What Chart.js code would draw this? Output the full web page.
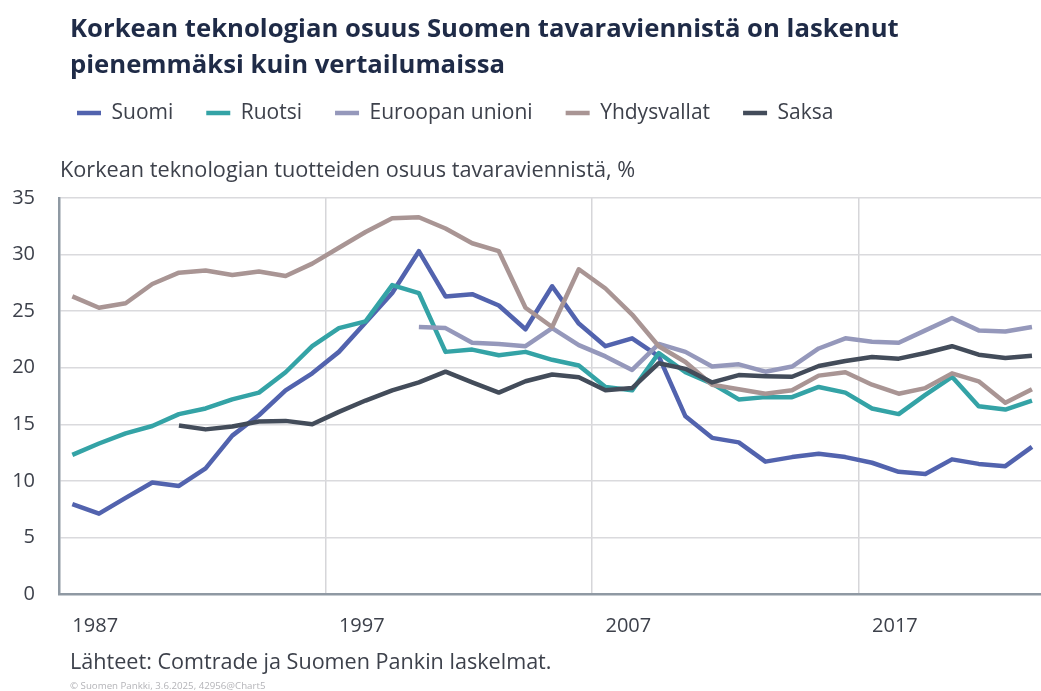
<!DOCTYPE html>
<html>
<head>
<meta charset="utf-8">
<script src="https://cdn.jsdelivr.net/npm/chart.js@4.4.1/dist/chart.umd.min.js"></script>
<style>
  html, body { margin: 0; padding: 0; background: #fff; overflow: hidden; width: 1041px; height: 691px; }
  #wrap { position: absolute; left: 0; top: 0; width: 1052px; height: 691px; }
  canvas { display: block; }
</style>
</head>
<body>
<div id="wrap"><canvas id="c" width="1052" height="691"></canvas></div>
<script>
// ---- data ----
const years = [1987,1988,1989,1990,1991,1992,1993,1994,1995,1996,1997,1998,1999,2000,2001,2002,2003,2004,2005,2006,2007,2008,2009,2010,2011,2012,2013,2014,2015,2016,2017,2018,2019,2020,2021,2022,2023];
const shownYears = [1987, 1997, 2007, 2017];
const yTicks = [0, 5, 10, 15, 20, 25, 30, 35];

const suomi = [7.95,7.1,8.5,9.85,9.55,11.1,14.0,15.8,18.0,19.5,21.4,24.0,26.6,30.3,26.3,26.5,25.5,23.4,27.2,23.9,21.9,22.6,21.0,15.7,13.8,13.4,11.7,12.1,12.4,12.1,11.6,10.8,10.6,11.9,11.5,11.3,13.0];
const ruotsi = [12.3,13.3,14.2,14.85,15.9,16.4,17.2,17.8,19.6,21.9,23.5,24.1,27.3,26.6,21.4,21.6,21.1,21.4,20.7,20.2,18.3,18.0,21.3,19.6,18.6,17.2,17.4,17.4,18.3,17.8,16.4,15.9,17.6,19.2,16.6,16.3,17.1];
const eu = [null,null,null,null,null,null,null,null,null,null,null,null,null,23.6,23.5,22.2,22.1,21.9,23.5,22.0,21.0,19.8,22.1,21.4,20.1,20.3,19.65,20.1,21.7,22.6,22.3,22.2,23.3,24.4,23.3,23.2,23.6];
const usa = [26.3,25.3,25.7,27.4,28.4,28.6,28.2,28.5,28.1,29.2,30.6,32.0,33.2,33.3,32.3,31.0,30.3,25.3,23.6,28.7,27.0,24.7,21.9,20.5,18.5,18.1,17.7,18.0,19.3,19.6,18.5,17.7,18.2,19.5,18.8,16.9,18.1];
const saksa = [null,null,null,null,14.9,14.55,14.8,15.25,15.3,15.0,16.1,17.1,18.0,18.7,19.65,18.7,17.8,18.8,19.4,19.15,18.0,18.2,20.4,19.9,18.7,19.35,19.25,19.2,20.15,20.6,20.95,20.8,21.3,21.9,21.15,20.85,21.05];

const seriesNames = ['Suomi', 'Ruotsi', 'Euroopan unioni', 'Yhdysvallat', 'Saksa'];
const titleLines = ['Korkean teknologian osuus Suomen tavaraviennistä on laskenut', 'pienemmäksi kuin vertailumaissa'];
const caption = 'Korkean teknologian tuotteiden osuus tavaraviennistä, %';
const sourceText = 'Lähteet: Comtrade ja Suomen Pankin laskelmat.';
const copyText = '© Suomen Pankki, 3.6.2025, 42956@Chart5';

// ---- styles ----
const colors = ['#5263AE', '#34A3A6', '#9598BB', '#A99594', '#434C5A'];
const FONT = "'Open Sans', 'Noto Sans', sans-serif";
Chart.defaults.font.family = FONT;

const values = [suomi, ruotsi, eu, usa, saksa];
const datasets = values.map((v, i) => ({
  label: seriesNames[i],
  data: v,
  borderColor: colors[i],
  backgroundColor: colors[i],
  borderWidth: 4.5,
  pointRadius: 0,
  pointHoverRadius: 0,
  tension: 0,
  spanGaps: false,
  borderJoinStyle: 'round',
  borderCapStyle: 'butt',
  fill: false,
  order: values.length - i
}));

const POS = {
  title: { x: 70, yMid: 30 },
  legend: { x: 77, yMid: 113 },
  caption: { x: 60, yMid: 171 },
  plotTop: 198
};

const placeBoxes = {
  id: 'placeBoxes',
  afterLayout(chart) {
    chart.boxes.forEach(b => {
      if (b === chart.legend) {
        const pad = b.options.labels.padding;
        const fs = b.options.labels.font.size;
        const w = b.right - b.left, h = b.bottom - b.top;
        b.left = POS.legend.x - pad; b.right = b.left + w;
        b.top = POS.legend.yMid - pad - fs / 2; b.bottom = b.top + h;
      } else if (b.options && b.options.text !== undefined && b.options.font) {
        const isTitle = Array.isArray(b.options.text);
        const p = isTitle ? POS.title : POS.caption;
        const lh = b.options.font.size * b.options.font.lineHeight;
        const w = 1000, h = b.bottom - b.top;
        b.left = p.x; b.right = p.x + w;
        b.top = p.yMid - lh / 2; b.bottom = b.top + h;
      }
    });
  }
};

const footer = {
  id: 'footer',
  afterDraw(chart) {
    const ctx = chart.ctx;
    ctx.save();
    ctx.textAlign = 'left';
    ctx.textBaseline = 'middle';
    ctx.fillStyle = '#3d414b';
    ctx.font = "21.6px " + FONT;
    ctx.fillText(sourceText, 70, 663);
    ctx.fillStyle = '#b4b4b8';
    ctx.font = "9.7px " + FONT;
    ctx.fillText(copyText, 70, 686);
    ctx.restore();
  }
};

const chart = new Chart(document.getElementById('c'), {
  type: 'line',
  data: { labels: years.map(String), datasets },
  plugins: [placeBoxes, footer],
  options: {
    responsive: false,
    animation: false,
    devicePixelRatio: 1,
    layout: { padding: { top: 120, left: 0, right: 1, bottom: 40 } },
    plugins: {
      tooltip: { enabled: false },
      title: {
        display: true,
        text: titleLines,
        align: 'start',
        color: '#1f2b47',
        font: { size: 25.7, weight: 'bold', lineHeight: 36 / 25.7 },
        padding: 0
      },
      subtitle: {
        display: true,
        text: caption,
        align: 'start',
        color: '#3d414b',
        font: { size: 21.7, weight: 'normal', lineHeight: 1.2 },
        padding: 0,
        weight: 500
      },
      legend: {
        display: true,
        position: 'top',
        align: 'start',
        labels: {
          usePointStyle: true,
          pointStyle: 'line',
          pointStyleWidth: 24,
          padding: 33,
          color: '#3d414b',
          font: { size: 21 },
          sort: (a, b) => a.datasetIndex - b.datasetIndex
        }
      }
    },
    scales: {
      x: {
        type: 'category',
        offset: true,
        afterFit(scale) { scale.height = 57; },
        grid: {
          offset: true,
          drawTicks: false,
          lineWidth: 1.5,
          color: (ctx) => (ctx.index % 10 === 0 && ctx.index > 0 && ctx.index < years.length) ? '#d6d6d9' : 'rgba(0,0,0,0)'
        },
        border: { display: true, color: '#8f99a3', width: 2.5 },
        ticks: {
          autoSkip: false,
          maxRotation: 0,
          minRotation: 0,
          align: 'start',
          padding: 20,
          color: '#3d414b',
          font: { size: 20 },
          callback: function (val, idx) {
            const y = years[idx];
            return shownYears.includes(y) ? String(y) : '';
          }
        }
      },
      y: {
        min: yTicks[0],
        max: yTicks[yTicks.length - 1],
        afterFit(scale) { scale.width = 59; },
        afterBuildTicks(scale) { scale.ticks = yTicks.map(v => ({ value: v })); },
        grid: { drawTicks: false, color: '#dadadd', lineWidth: 1.5 },
        border: { display: true, color: '#8f99a3', width: 2.5 },
        ticks: {
          padding: 24,
          color: '#3d414b',
          font: { size: 20 },
          callback: (v) => String(v)
        }
      }
    }
  }
});

// align the plot top exactly
const dTop = POS.plotTop - chart.chartArea.top;
if (Math.abs(dTop) > 0.01) {
  chart.config.options.layout.padding.top += dTop;
  chart.update();
}
</script>
</body>
</html>
